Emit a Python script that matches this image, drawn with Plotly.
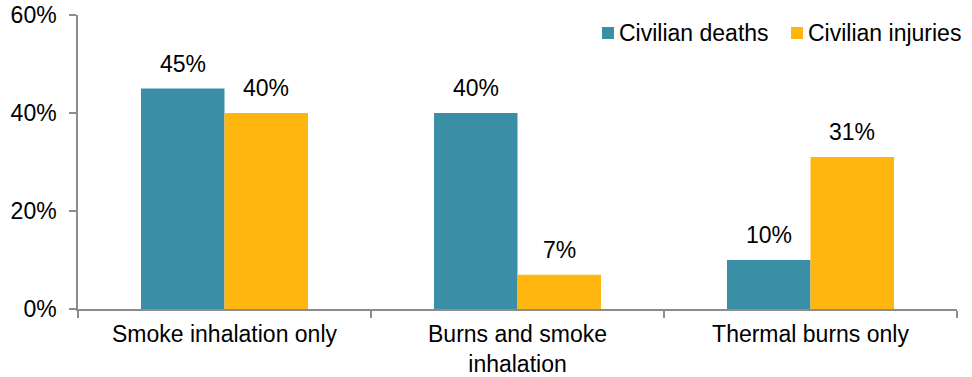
import plotly.graph_objects as go

categories = ["Smoke inhalation only", "Burns and smoke<br>inhalation", "Thermal burns only"]
deaths = [45, 40, 10]
injuries = [40, 7, 31]
series_names = ["Civilian deaths", "Civilian injuries"]
colors = ["#3A8FA7", "#FFB60F"]
y_ticks = [0, 20, 40, 60]

font_family = "Liberation Sans, Arial, sans-serif"
fsize = 23
gap = 0.43
half = (1 - gap) / 4  # offset of each bar centre from the category centre

fig = go.Figure()
series = [deaths, injuries]
for k, (name, vals, col) in enumerate(zip(series_names, series, colors)):
    fig.add_trace(go.Bar(
        x=categories, y=vals, name=name, showlegend=False,
        marker=dict(color=col, line=dict(width=0)),
    ))
    # value labels above each bar
    sign = -1 if k == 0 else 1
    for i, v in enumerate(vals):
        fig.add_annotation(
            x=i + sign * half, y=v, xref="x", yref="y",
            text=f"{v}%", showarrow=False, yanchor="bottom", yshift=10,
            font=dict(size=fsize, color="#000000", family=font_family),
        )

# legend drawn as swatches + labels at the top right
plot_l, plot_r, plot_t, plot_b = 78, 957, 15, 309
pw, ph = plot_r - plot_l, plot_b - plot_t
def px(xp):
    return (xp - plot_l) / pw
def py(yp):
    return (plot_b - yp) / ph

legend_items = [(602, 619), (791, 808)]
for (sx, tx), name, col in zip(legend_items, series_names, colors):
    fig.add_shape(type="rect", xref="paper", yref="paper",
                  x0=px(sx), x1=px(sx + 12), y0=py(39), y1=py(27),
                  fillcolor=col, line=dict(width=0))
    fig.add_annotation(x=px(tx - 2), y=py(33), xref="paper", yref="paper",
                       text=name, showarrow=False, xanchor="left", yanchor="middle",
                       font=dict(size=fsize, color="#000000", family=font_family))

fig.update_layout(
    width=972, height=377,
    margin=dict(l=plot_l, r=972 - plot_r, t=plot_t, b=377 - plot_b),
    paper_bgcolor="white", plot_bgcolor="white",
    barmode="group", bargap=gap, bargroupgap=0,
    font=dict(family=font_family, size=fsize, color="#000000"),
    showlegend=False,
    xaxis=dict(showline=True, linecolor="#8C8C8C", linewidth=1.5,
               ticks="outside", tickson="boundaries", ticklen=7, tickcolor="#8C8C8C",
               tickwidth=1.5, showgrid=False, tickfont=dict(size=fsize),
               ticklabelstandoff=4, automargin=False),
    yaxis=dict(range=[0, 60], tickvals=y_ticks, ticktext=[f"{v}%" for v in y_ticks],
               showline=True, linecolor="#8C8C8C", linewidth=1.5,
               ticks="outside", ticklen=7, tickcolor="#8C8C8C", tickwidth=1.5,
               showgrid=False, zeroline=False, tickfont=dict(size=fsize),
               ticklabelstandoff=8, automargin=False),
)

fig.write_html("out.html")
